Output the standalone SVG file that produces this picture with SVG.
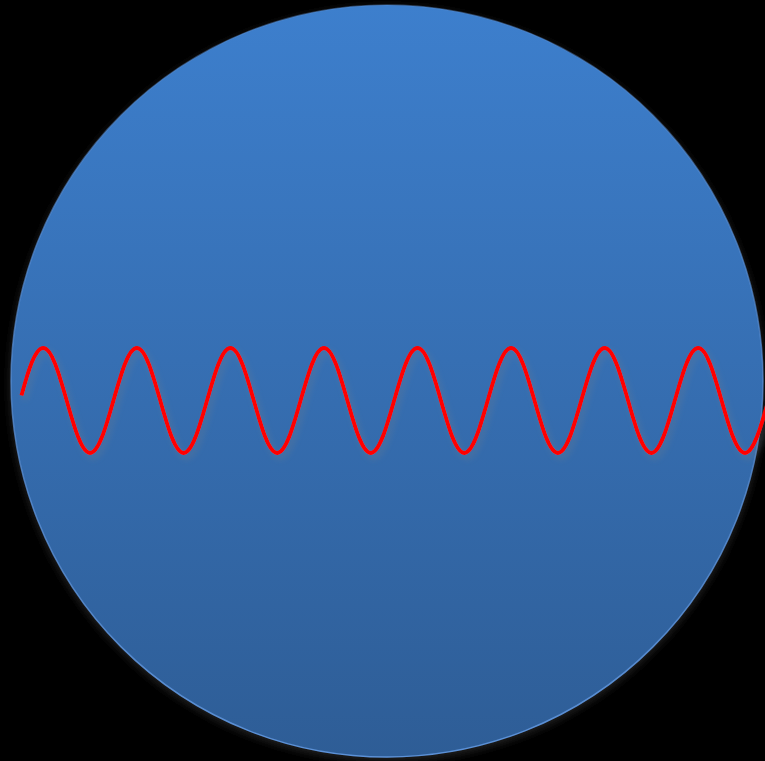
<svg xmlns="http://www.w3.org/2000/svg" width="765" height="761" viewBox="0 0 765 761">
  <defs>
    <linearGradient id="ballGrad" x1="0" y1="0" x2="0" y2="1">
      <stop offset="0" stop-color="#3d7fcd"/>
      <stop offset="1" stop-color="#2e5d96"/>
    </linearGradient>
    <linearGradient id="rimGrad" x1="0" y1="0" x2="0" y2="1">
      <stop offset="0" stop-color="#5b91d8" stop-opacity="0.4"/>
      <stop offset="1" stop-color="#5b91d8" stop-opacity="1"/>
    </linearGradient>
    <filter id="glow" x="-10%" y="-10%" width="120%" height="120%">
      <feGaussianBlur stdDeviation="4"/>
    </filter>
    <filter id="waveShadow" x="-5%" y="-30%" width="110%" height="160%">
      <feDropShadow dx="3" dy="4" stdDeviation="3" flood-color="#6a7a8c" flood-opacity="0.45"/>
    </filter>
    <style>
      .ball { fill: url(#ballGrad); stroke: url(#rimGrad); stroke-width: 1.5; }
      .wave { fill: none; stroke: #ff0000; stroke-width: 4; stroke-linecap: butt; stroke-linejoin: round; }
    </style>
  </defs>
  <rect x="0" y="0" width="765" height="761" fill="#000"/>
  <g id="sphere">
    <circle cx="387" cy="384" r="377" fill="#2a2a2a" filter="url(#glow)" opacity="0.8"/>
    <circle class="ball" cx="387" cy="381" r="376"/>
  </g>
  <g id="wave" filter="url(#waveShadow)">
    <path class="wave" d="M21.5,395.5 c6.5,-24 13.4,-47.5 21.8,-47.5
      s15.76,25.6 23.39,52.5 s14.93,52.5 23.39,52.5 s15.76,-25.6 23.39,-52.5 s14.93,-52.5 23.39,-52.5
      s15.76,25.6 23.39,52.5 s14.93,52.5 23.39,52.5 s15.76,-25.6 23.39,-52.5 s14.93,-52.5 23.39,-52.5
      s15.76,25.6 23.39,52.5 s14.93,52.5 23.39,52.5 s15.76,-25.6 23.39,-52.5 s14.93,-52.5 23.39,-52.5
      s15.76,25.6 23.39,52.5 s14.93,52.5 23.39,52.5 s15.76,-25.6 23.39,-52.5 s14.93,-52.5 23.39,-52.5
      s15.76,25.6 23.39,52.5 s14.93,52.5 23.39,52.5 s15.76,-25.6 23.39,-52.5 s14.93,-52.5 23.39,-52.5
      s15.76,25.6 23.39,52.5 s14.93,52.5 23.39,52.5 s15.76,-25.6 23.39,-52.5 s14.93,-52.5 23.39,-52.5
      s15.76,25.6 23.39,52.5 s14.93,52.5 23.39,52.5 s15.76,-25.6 23.39,-52.5 s14.93,-52.5 23.39,-52.5
      s15.76,25.6 23.39,52.5 s14.93,52.5 23.39,52.5 s15.76,-25.6 23.39,-52.5"/>
  </g>
</svg>
